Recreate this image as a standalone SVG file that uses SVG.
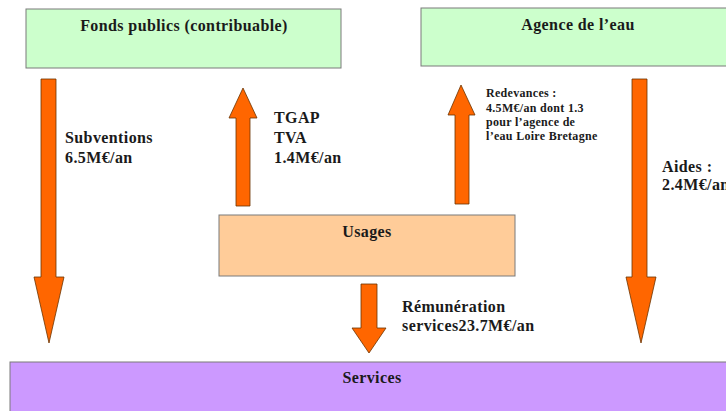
<svg xmlns="http://www.w3.org/2000/svg" width="726" height="411" viewBox="0 0 726 411">
<style>
text{font-family:"Liberation Serif","Times New Roman",serif;font-weight:bold;fill:#1a1a1a}
.h{font-size:16px;letter-spacing:0.4px;text-anchor:middle}
.l{font-size:16px;letter-spacing:0.4px}
.s{font-size:12px;letter-spacing:0.3px}
.arr{fill:#ff6600;stroke:#6b3300;stroke-width:0.8}
.box{stroke:#7a7a7a;stroke-width:1}
</style>
<rect width="726" height="411" fill="#ffffff"/>
<g id="fonds"><rect class="box" x="26" y="9" width="315" height="59" fill="#ccffcc"/><text class="h" x="184" y="31">Fonds publics (contribuable)</text></g>
<g id="agence"><rect class="box" x="421" y="8" width="310" height="58" fill="#ccffcc"/><text class="h" x="578" y="30">Agence de l’eau</text></g>
<g id="usages"><rect class="box" x="219" y="215" width="296" height="61" fill="#ffcc99"/><text class="h" x="367" y="237">Usages</text></g>
<g id="services"><rect class="box" x="10" y="362" width="720" height="53" fill="#cc99ff"/><text class="h" x="372" y="383">Services</text></g>
<g id="connectors">
<polygon class="arr" points="41,79 56,79 56,277 64,277 49,343 34,277 41,277"/>
<polygon class="arr" points="236,206 250,206 250,118 257,118 243,88 229,118 236,118"/>
<polygon class="arr" points="455,204 469,204 469,115 475,115 461,85 448,115 455,115"/>
<polygon class="arr" points="632,79 647,79 647,277 656,277 641,343 626,277 632,277"/>
<polygon class="arr" points="361,284 377,284 377,328 386,328 369,353 352,328 361,328"/>
<text class="l" x="65" y="143">Subventions</text>
<text class="l" x="65" y="163">6.5M€/an</text>
<text class="l" x="274" y="123">TGAP</text>
<text class="l" x="274" y="143">TVA</text>
<text class="l" x="274" y="163">1.4M€/an</text>
<text class="s" x="486" y="97">Redevances :</text>
<text class="s" x="486" y="112">4.5M€/an dont 1.3</text>
<text class="s" x="486" y="126">pour l’agence de</text>
<text class="s" x="486" y="140">l’eau Loire Bretagne</text>
<text class="l" x="662" y="172">Aides :</text>
<text class="l" x="662" y="190">2.4M€/an</text>
<text class="l" x="402" y="312">Rémunération</text>
<text class="l" x="402" y="331">services23.7M€/an</text>
</g>
</svg>
